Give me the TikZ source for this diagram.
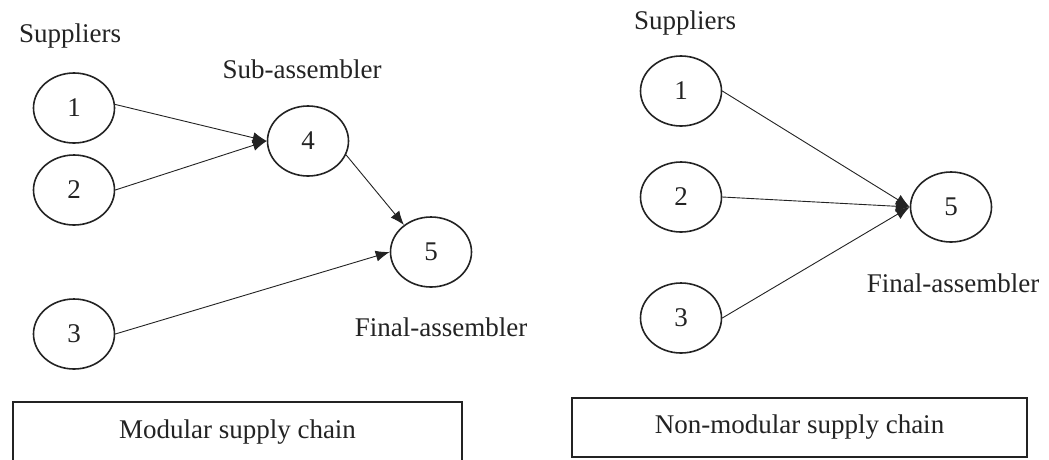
\documentclass[tikz,border=0pt]{standalone}
\usepackage{fontspec}
\setmainfont{Liberation Serif}
\usetikzlibrary{shapes.geometric,arrows.meta}
\definecolor{ink}{RGB}{35,35,35}
\begin{document}
\begin{tikzpicture}[x=1pt,y=-1pt,
  every node/.style={font=\fontsize{27}{32}\selectfont,text=ink},
  circ/.style={ellipse,draw=ink,line width=1.6pt,minimum width=81pt,minimum height=70pt,inner sep=0pt},
  lbl/.style={inner sep=0pt},
  boxn/.style={draw=ink,line width=1.6pt,rectangle,inner sep=0pt},
  conn/.style={draw=ink,line width=0.9pt,-{Latex[length=14pt,width=11pt]}}]
\useasboundingbox[fill=white] (0,0) rectangle (1049,459);
% left panel
\node[lbl] (supL) at (70,36) {Suppliers};
\node[lbl] (subL) at (302,69) {Sub-assembler};
\node[lbl] (finL) at (441,327) {Final-assembler};
\node[circ] (l1) at (74,108) {1};
\node[circ] (l2) at (74,190) {2};
\node[circ] (l3) at (74,334) {3};
\node[circ] (l4) at (308,141) {4};
\node[circ] (l5) at (431,252) {5};
\draw[conn] (l1.5) -- (l4.west);
\draw[conn] (l2.east) -- (l4.west);
\draw[conn] (l4.-20) -- (l5.135);
\draw[conn] (l3.east) -- (l5.west);
\node[boxn,minimum width=449pt,minimum height=60pt] (boxL) at (237.5,432) {Modular supply chain};
% right panel
\node[lbl] (supR) at (685,23) {Suppliers};
\node[lbl] (finR) at (953,283) {Final-assembler};
\node[circ] (r1) at (681,91) {1};
\node[circ] (r2) at (681,197) {2};
\node[circ] (r3) at (681,318) {3};
\node[circ] (r5) at (951,207) {5};
\draw[conn] (r1.east) -- (r5.west);
\draw[conn] (r2.east) -- (r5.west);
\draw[conn] (r3.east) -- (r5.west);
\node[boxn,minimum width=455pt,minimum height=59pt] (boxR) at (799.5,427.5) {Non-modular supply chain};
\end{tikzpicture}
\end{document}
